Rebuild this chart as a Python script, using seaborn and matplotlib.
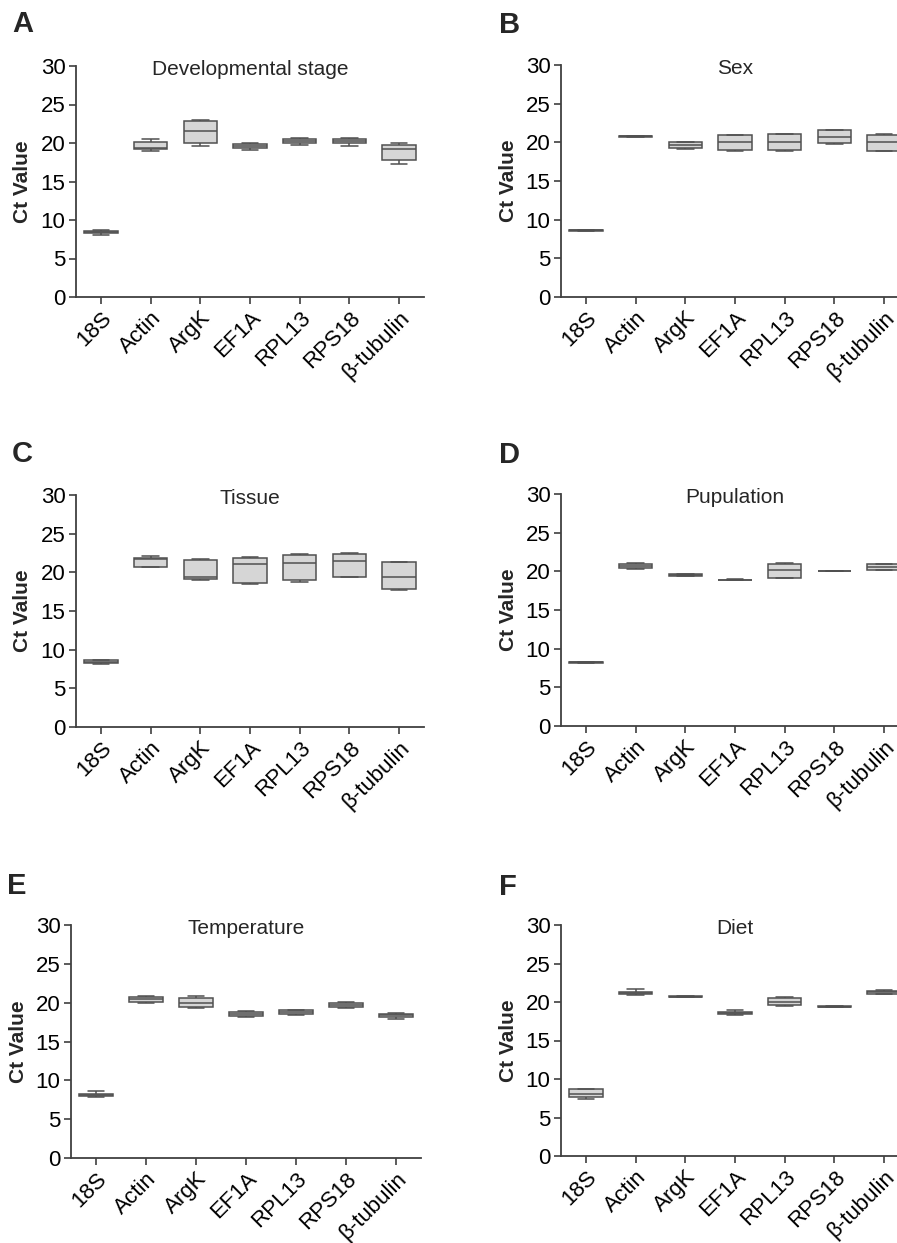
import pandas as pd
import matplotlib
matplotlib.use('Agg')
import matplotlib.pyplot as plt
import seaborn as sns

sns.set_style('white')
plt.rcParams['font.family'] = ['Liberation Sans', 'DejaVu Sans']

genes = ['18S', 'Actin', 'ArgK', 'EF1A', 'RPL13', 'RPS18', 'β-tubulin']

# 5 values per gene: min, q1, median, q3, max
dev_stage = [[8.1, 8.35, 8.45, 8.55, 8.75], [19.0, 19.2, 19.35, 20.1, 20.5],
             [19.6, 20.0, 21.6, 22.8, 23.05], [19.1, 19.3, 19.55, 19.85, 20.05],
             [19.7, 20.0, 20.2, 20.5, 20.7], [19.65, 19.95, 20.25, 20.5, 20.6],
             [17.25, 17.8, 19.2, 19.8, 20.0]]
sex = [[8.55, 8.58, 8.6, 8.62, 8.65], [20.7, 20.72, 20.76, 20.82, 20.85],
       [19.2, 19.3, 19.7, 20.05, 20.1], [18.9, 18.95, 20.0, 20.95, 21.0],
       [18.9, 18.95, 20.05, 21.05, 21.1], [19.75, 19.85, 20.75, 21.55, 21.6],
       [18.85, 18.9, 20.0, 20.95, 21.05]]
tissue = [[8.2, 8.25, 8.35, 8.6, 8.65], [20.65, 20.75, 21.7, 21.85, 22.05],
          [19.05, 19.2, 19.4, 21.6, 21.75], [18.5, 18.65, 21.05, 21.85, 21.95],
          [18.7, 19.0, 21.15, 22.25, 22.35], [19.4, 19.45, 21.45, 22.4, 22.45],
          [17.7, 17.9, 19.45, 21.3, 21.4]]
pupation = [[8.18, 8.2, 8.22, 8.24, 8.26], [20.3, 20.4, 20.65, 21.0, 21.05],
            [19.4, 19.45, 19.5, 19.6, 19.65], [18.88, 18.9, 18.92, 18.94, 18.96],
            [19.15, 19.2, 20.15, 21.0, 21.05], [19.98, 20.0, 20.02, 20.04, 20.06],
            [20.15, 20.2, 20.55, 20.9, 20.95]]
temperature = [[7.9, 8.0, 8.15, 8.3, 8.6], [20.0, 20.15, 20.45, 20.7, 20.8],
               [19.25, 19.45, 20.0, 20.55, 20.8], [18.15, 18.3, 18.6, 18.8, 18.9],
               [18.4, 18.5, 18.75, 19.0, 19.1], [19.25, 19.4, 19.7, 20.0, 20.05],
               [17.95, 18.15, 18.35, 18.5, 18.7]]
diet = [[7.4, 7.6, 8.05, 8.65, 8.75], [20.95, 21.0, 21.15, 21.25, 21.65],
        [20.6, 20.65, 20.7, 20.72, 20.75], [18.3, 18.5, 18.6, 18.7, 18.9],
        [19.5, 19.6, 20.05, 20.5, 20.7], [19.3, 19.35, 19.4, 19.45, 19.5],
        [21.0, 21.1, 21.25, 21.4, 21.5]]

panels = [('A', 'Developmental stage', dev_stage),
          ('B', 'Sex', sex),
          ('C', 'Tissue', tissue),
          ('D', 'Pupulation', pupation),
          ('E', 'Temperature', temperature),
          ('F', 'Diet', diet)]

W, H = 897, 1243
# axes boxes in pixels: left, right, top, bottom
boxes = [(76, 424, 66, 297), (561, 909, 65, 297),
         (76, 424, 495, 727), (561, 909, 494, 726),
         (71, 421, 925, 1158), (561, 909, 925, 1156)]
letter_pos = [(12, 24), (499, 25), (12, 454), (499, 455), (7, 886), (499, 887)]

fig = plt.figure(figsize=(W / 100, H / 100), dpi=100)

for (letter, title, vals), (l, r, t, b), (lx, ly) in zip(panels, boxes, letter_pos):
    ax = fig.add_axes([l / W, 1 - b / H, (r - l) / W, (b - t) / H])
    rows = [(g, v) for g, vs in zip(genes, vals) for v in vs]
    df = pd.DataFrame(rows, columns=['gene', 'ct'])
    sns.boxplot(data=df, x='gene', y='ct', order=genes, ax=ax, color='#d6d6d6',
                linecolor='#505050', linewidth=1.1, width=0.67, whis=(0, 100),
                saturation=1, fliersize=0)
    ax.set_ylim(0, 30)
    ax.set_xlim(-0.5, 6.5)
    ax.set_yticks(range(0, 31, 5))
    ax.set_xlabel('')
    ax.set_ylabel('')
    for s in ['top', 'right']:
        ax.spines[s].set_visible(False)
    for s in ['left', 'bottom']:
        ax.spines[s].set_color('#404040')
        ax.spines[s].set_linewidth(1.3)
    ax.tick_params(axis='both', which='major', direction='out', length=5,
                   width=1.2, color='#404040', labelsize=16, labelcolor='black',
                   left=True, bottom=True, pad=2.5)
    ax.set_xticks(range(len(genes)))
    ax.set_xticklabels(genes, rotation=45, ha='right', rotation_mode='anchor')
    ax.text(0.5, 0.985, title, transform=ax.transAxes, ha='center', va='center',
            fontsize=15)
    fig.text((l - 53) / W, 1 - (t + b) / 2 / H, 'Ct Value', rotation=90,
             ha='center', va='center', fontsize=15, fontweight='bold')
    fig.text(lx / W, 1 - ly / H, letter, ha='left', va='center', fontsize=21,
             fontweight='bold')

fig.savefig('out.png', dpi=100)
